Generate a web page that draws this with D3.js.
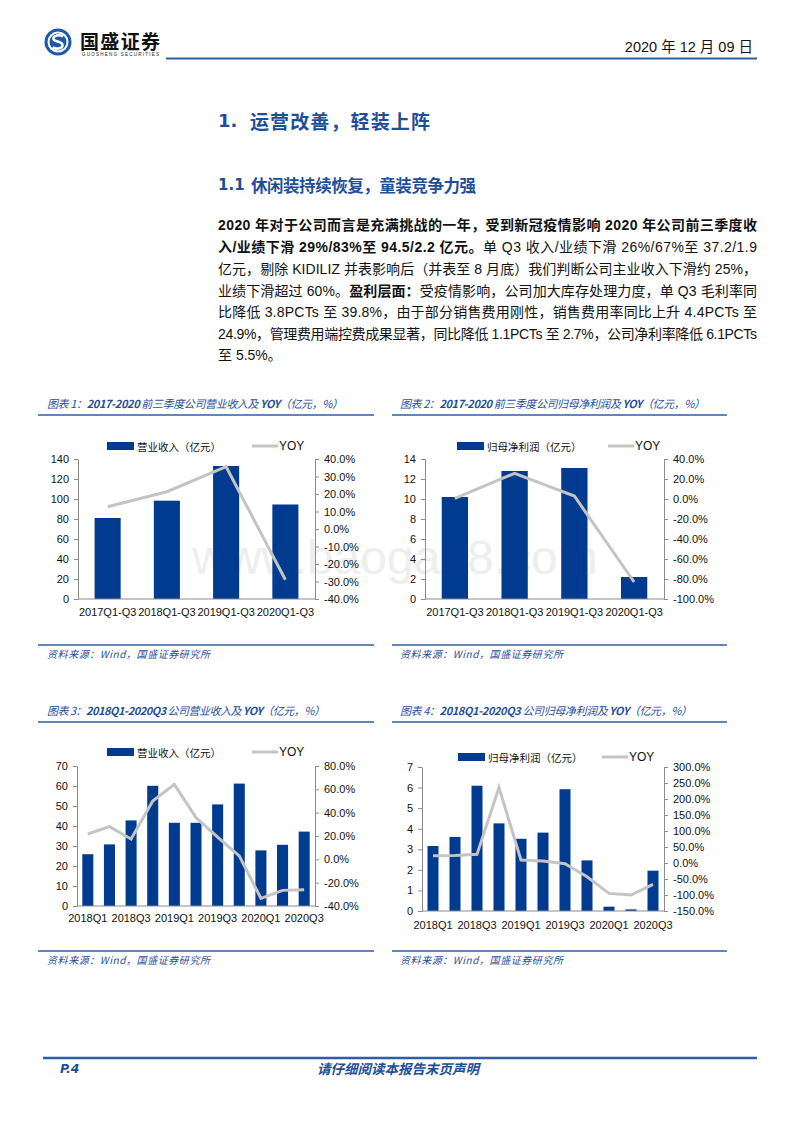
<!DOCTYPE html>
<html><head><meta charset="utf-8">
<script src="https://cdn.jsdelivr.net/npm/d3@7"></script>
<style>
html,body{margin:0;padding:0;background:#fff;}
svg{display:block;}
</style></head>
<body>
<script>
// ---------- data ----------
const cats1 = ["2017Q1-Q3","2018Q1-Q3","2019Q1-Q3","2020Q1-Q3"];
const revenue1 = [81.0, 98.3, 133.0, 94.5];
const revenueYoy1 = [0.127, 0.213, 0.356, -0.29];
const profit2 = [10.2, 12.8, 13.1, 2.2];
const profitYoy2 = [0.007, 0.257, 0.03, -0.83];
const cats3 = ["2018Q1","2018Q2","2018Q3","2018Q4","2019Q1","2019Q2","2019Q3","2019Q4","2020Q1","2020Q2","2020Q3"];
const revenue3 = [25.9, 30.8, 42.8, 60.1, 41.6, 41.6, 50.8, 61.2, 27.8, 30.6, 37.2];
const revenueYoy3 = [0.217, 0.28, 0.174, 0.50, 0.643, 0.357, 0.19, 0.03, -0.334, -0.266, -0.26];
const profit4 = [3.16, 3.6, 6.09, 4.26, 3.51, 3.81, 5.92, 2.46, 0.21, 0.08, 1.96];
const profitYoy4 = [0.23, 0.235, 0.27, 2.36, 0.09, 0.06, -0.02, -0.43, -0.95, -1.0, -0.67];

const leftTicks1 = [0,20,40,60,80,100,120,140];
const rightTicks1 = [-0.4,-0.3,-0.2,-0.1,0,0.1,0.2,0.3,0.4];
const leftTicks2 = [0,2,4,6,8,10,12,14];
const rightTicks2 = [-1.0,-0.8,-0.6,-0.4,-0.2,0,0.2,0.4];
const leftTicks3 = [0,10,20,30,40,50,60,70];
const rightTicks3 = [-0.4,-0.2,0,0.2,0.4,0.6,0.8];
const leftTicks4 = [0,1,2,3,4,5,6,7];
const rightTicks4 = [-1.5,-1.0,-0.5,0,0.5,1.0,1.5,2.0,2.5,3.0];

const BLUE = "#003b8f";
const HEAD = "#1f4e99";
const GRAY_LINE = "#c4c4c4";
const CJK = "'Noto Sans CJK SC', sans-serif";
const LAT = "'Liberation Sans', 'Noto Sans CJK SC', sans-serif";

const svg = d3.select("body").append("svg").attr("width", 800).attr("height", 1132);

// ---------- header ----------
const logo = svg.append("g");
logo.append("circle").attr("cx", 58).attr("cy", 42).attr("r", 13.5).attr("fill", "#1b5aa8");
logo.append("circle").attr("cx", 58).attr("cy", 42).attr("r", 10.5).attr("fill", "#fff");
logo.append("circle").attr("cx", 58).attr("cy", 42).attr("r", 8.5).attr("fill", "#1b5aa8");
logo.append("path").attr("d", "M63,36.5 C60,34.5 53,35 53.5,39 C54,42 62.5,41 62.5,45 C62.5,49 56,49.5 52.5,47.5")
  .attr("fill", "none").attr("stroke", "#fff").attr("stroke-width", 2.6);
svg.append("text").attr("x", 80).attr("y", 40).attr("dominant-baseline", "central")
  .attr("font-family", CJK).attr("font-weight", 700).attr("font-size", 19).attr("fill", "#111")
  .attr("textLength", 80).text("国盛证券");
svg.append("text").attr("x", 82).attr("y", 54).attr("dominant-baseline", "central")
  .attr("font-family", LAT).attr("font-size", 4.6).attr("fill", "#222").attr("textLength", 77)
  .text("GUOSHENG SECURITIES");
svg.append("line").attr("x1", 166).attr("x2", 757).attr("y1", 58.5).attr("y2", 58.5)
  .attr("stroke", "#2d5ea8").attr("stroke-width", 2);
svg.append("text").attr("x", 753).attr("y", 47).attr("text-anchor", "end").attr("dominant-baseline", "central")
  .attr("font-family", LAT).attr("font-size", 14.5).attr("fill", "#111").text("2020 年 12 月 09 日");

// ---------- headings ----------
svg.append("text").attr("x", 218).attr("y", 120).attr("dominant-baseline", "central")
  .attr("font-family", "'DejaVu Sans', sans-serif").attr("font-weight", 700).attr("font-size", 18).attr("fill", HEAD).text("1.");
svg.append("text").attr("x", 250).attr("y", 120).attr("dominant-baseline", "central")
  .attr("font-family", CJK).attr("font-weight", 700).attr("font-size", 19).attr("fill", HEAD)
  .attr("textLength", 180).text("运营改善，轻装上阵");
svg.append("text").attr("x", 218).attr("y", 185).attr("dominant-baseline", "central")
  .attr("font-family", "'DejaVu Sans', sans-serif").attr("font-weight", 700).attr("font-size", 15).attr("fill", HEAD).text("1.1");
svg.append("text").attr("x", 251).attr("y", 185).attr("dominant-baseline", "central")
  .attr("font-family", CJK).attr("font-weight", 700).attr("font-size", 16.5).attr("fill", HEAD)
  .attr("textLength", 225).text("休闲装持续恢复，童装竞争力强");

// ---------- paragraph ----------
const paraLines = [
  [["2020 年对于公司而言是充满挑战的一年，受到新冠疫情影响 2020 年公司前三季度收", 700]],
  [["入/业绩下滑 29%/83%至 94.5/2.2 亿元。", 700], ["单 Q3 收入/业绩下滑 26%/67%至 37.2/1.9", 400]],
  [["亿元，剔除 KIDILIZ 并表影响后（并表至 8 月底）我们判断公司主业收入下滑约 25%，", 400]],
  [["业绩下滑超过 60%。", 400], ["盈利层面：", 700], ["受疫情影响，公司加大库存处理力度，单 Q3 毛利率同", 400]],
  [["比降低 3.8PCTs 至 39.8%，由于部分销售费用刚性，销售费用率同比上升 4.4PCTs 至", 400]],
  [["24.9%，管理费用端控费成果显著，同比降低 1.1PCTs 至 2.7%，公司净利率降低 6.1PCTs", 400]],
  [["至 5.5%。", 400]]
];
const paraY = [225, 247, 268.5, 290.5, 312, 333.5, 355];
paraLines.forEach((segs, i) => {
  const t = svg.append("text").attr("x", 218).attr("y", paraY[i]).attr("dominant-baseline", "central")
    .attr("font-family", LAT).attr("font-size", 14).attr("fill", "#111");
  segs.forEach(s => t.append("tspan").attr("font-weight", s[1]).text(s[0]));
  if (i < paraLines.length - 1) t.attr("textLength", 539).attr("lengthAdjust", "spacing");
});

// ---------- watermark ----------
svg.append("text").attr("x", 395).attr("y", 557).attr("text-anchor", "middle").attr("dominant-baseline", "central")
  .attr("font-family", LAT).attr("font-size", 48).attr("fill", "#eeeeee").text("www.baogao8.com");

// ---------- chart frame (title & source) ----------
function frame(f) {
  const t = svg.append("text").attr("x", f.tx).attr("y", f.ty).attr("dominant-baseline", "central")
    .attr("font-family", CJK).attr("font-style", "italic").attr("font-size", 11).attr("fill", HEAD);
  f.title.forEach(s => t.append("tspan").attr("font-weight", s[1]).text(s[0]));
  t.attr("textLength", f.tw).attr("lengthAdjust", "spacing");
  svg.append("line").attr("x1", f.lx0).attr("x2", f.lx1).attr("y1", f.ly).attr("y2", f.ly)
    .attr("stroke", "#2d5ea8").attr("stroke-width", 1.5);
  svg.append("line").attr("x1", f.lx0).attr("x2", f.lx1).attr("y1", f.sy).attr("y2", f.sy)
    .attr("stroke", "#2d5ea8").attr("stroke-width", 1.5);
  svg.append("text").attr("x", f.tx).attr("y", f.sy + 8).attr("dominant-baseline", "central")
    .attr("font-family", CJK).attr("font-style", "italic").attr("font-size", 10).attr("fill", HEAD)
    .attr("textLength", 163).attr("lengthAdjust", "spacing").text("资料来源：Wind，国盛证券研究所");
}

function pct(d) { return (d * 100).toFixed(1) + "%"; }

function chart(o) {
  const g = svg.append("g");
  const x = d3.scaleBand().domain(o.cats).range([o.x0, o.x1]).paddingInner(o.pad).paddingOuter(o.pad / 2);
  const yL = d3.scaleLinear().domain([o.lTicks[0], o.lTicks[o.lTicks.length - 1]]).range([o.yB, o.yT]);
  const yR = d3.scaleLinear().domain([o.rTicks[0], o.rTicks[o.rTicks.length - 1]]).range([o.yB, o.yT]);
  const bw = x.bandwidth();

  g.selectAll("rect.bar").data(o.bars).join("rect").attr("class", "bar")
    .attr("x", (d, i) => x(o.cats[i])).attr("y", d => yL(d))
    .attr("width", bw).attr("height", d => o.yB - yL(d)).attr("fill", BLUE);

  const axisStyle = (sel) => {
    sel.select(".domain").attr("stroke", "#8c8c8c");
    sel.selectAll(".tick line").attr("stroke", "#8c8c8c");
    sel.selectAll(".tick text").attr("font-family", LAT).attr("font-size", 11).attr("fill", "#111");
  };
  g.append("g").attr("transform", `translate(${o.x0},0)`)
    .call(d3.axisLeft(yL).tickValues(o.lTicks).tickFormat(d => String(d)).tickSize(4).tickSizeOuter(0).tickPadding(5))
    .call(axisStyle);
  g.append("g").attr("transform", `translate(${o.x1},0)`)
    .call(d3.axisRight(yR).tickValues(o.rTicks).tickFormat(pct).tickSize(4).tickSizeOuter(0).tickPadding(5))
    .call(axisStyle);
  g.append("g").attr("transform", `translate(0,${o.yB})`)
    .call(d3.axisBottom(x).tickValues(o.xTicks).tickSize(0).tickSizeOuter(0).tickPadding(o.xPad))
    .call(axisStyle)
    .call(s => s.select(".domain").attr("d", `M${o.x0},0H${o.x1}`));

  const line = d3.line().x((d, i) => x(o.cats[i]) + bw / 2).y(d => yR(d));
  g.append("path").datum(o.yoy).attr("d", line).attr("fill", "none")
    .attr("stroke", GRAY_LINE).attr("stroke-width", 3).attr("stroke-linejoin", "miter");

  // legend
  const L = o.legend;
  g.append("rect").attr("x", L.rx).attr("y", L.y - 4).attr("width", 27).attr("height", 8).attr("fill", BLUE);
  g.append("text").attr("x", L.rx + 30).attr("y", L.y).attr("dominant-baseline", "central")
    .attr("font-family", CJK).attr("font-size", 10.5).attr("fill", "#111").text(L.label);
  g.append("line").attr("x1", L.lx).attr("x2", L.lx + 26).attr("y1", L.y).attr("y2", L.y)
    .attr("stroke", GRAY_LINE).attr("stroke-width", 3);
  g.append("text").attr("x", L.lx + 27).attr("y", L.y).attr("dominant-baseline", "central")
    .attr("font-family", LAT).attr("font-size", 12).attr("fill", "#111").text("YOY");
}

frame({tx: 47, ty: 403, tw: 296, lx0: 38, lx1: 374, ly: 415, sy: 645,
  title: [["图表 1：", 400], ["2017-2020", 700], [" 前三季度公司营业收入及 ", 400], ["YOY", 700], ["（亿元，%）", 400]]});
frame({tx: 400, ty: 403, tw: 305, lx0: 392, lx1: 727, ly: 415, sy: 645,
  title: [["图表 2：", 400], ["2017-2020", 700], [" 前三季度公司归母净利润及 ", 400], ["YOY", 700], ["（亿元，%）", 400]]});
frame({tx: 47, ty: 710, tw: 278, lx0: 38, lx1: 374, ly: 722, sy: 951,
  title: [["图表 3：", 400], ["2018Q1-2020Q3", 700], [" 公司营业收入及 ", 400], ["YOY", 700], ["（亿元，%）", 400]]});
frame({tx: 400, ty: 710, tw: 292, lx0: 392, lx1: 727, ly: 722, sy: 951,
  title: [["图表 4：", 400], ["2018Q1-2020Q3", 700], [" 公司归母净利润及 ", 400], ["YOY", 700], ["（亿元，%）", 400]]});

chart({cats: cats1, bars: revenue1, yoy: revenueYoy1, lTicks: leftTicks1, rTicks: rightTicks1,
  x0: 78, x1: 315, yT: 459, yB: 599, pad: 0.56, xTicks: cats1, xPad: 9,
  legend: {rx: 107, lx: 252, y: 446, label: "营业收入（亿元）"}});
chart({cats: cats1, bars: profit2, yoy: profitYoy2, lTicks: leftTicks2, rTicks: rightTicks2,
  x0: 425, x1: 664, yT: 459, yB: 599, pad: 0.56, xTicks: cats1, xPad: 9,
  legend: {rx: 457, lx: 608, y: 446, label: "归母净利润（亿元）"}});
chart({cats: cats3, bars: revenue3, yoy: revenueYoy3, lTicks: leftTicks3, rTicks: rightTicks3,
  x0: 77, x1: 315, yT: 766, yB: 906, pad: 0.49, xTicks: cats3.filter((d, i) => i % 2 === 0), xPad: 8,
  legend: {rx: 107, lx: 252, y: 752, label: "营业收入（亿元）"}});
chart({cats: cats3, bars: profit4, yoy: profitYoy4, lTicks: leftTicks4, rTicks: rightTicks4,
  x0: 422, x1: 664, yT: 767, yB: 911, pad: 0.5, xTicks: cats3.filter((d, i) => i % 2 === 0), xPad: 10,
  legend: {rx: 458, lx: 602, y: 757, label: "归母净利润（亿元）"}});

// ---------- footer ----------
svg.append("line").attr("x1", 43).attr("x2", 757).attr("y1", 1058).attr("y2", 1058)
  .attr("stroke", "#2d5ea8").attr("stroke-width", 2.5);
svg.append("text").attr("x", 60).attr("y", 1068).attr("dominant-baseline", "central")
  .attr("font-family", "'DejaVu Sans', sans-serif").attr("font-style", "italic").attr("font-weight", 700)
  .attr("font-size", 12.5).attr("fill", HEAD).text("P.4");
svg.append("text").attr("x", 398).attr("y", 1068).attr("text-anchor", "middle").attr("dominant-baseline", "central")
  .attr("font-family", CJK).attr("font-style", "italic").attr("font-weight", 700)
  .attr("font-size", 13.5).attr("fill", HEAD).text("请仔细阅读本报告末页声明");
</script>
</body></html>
